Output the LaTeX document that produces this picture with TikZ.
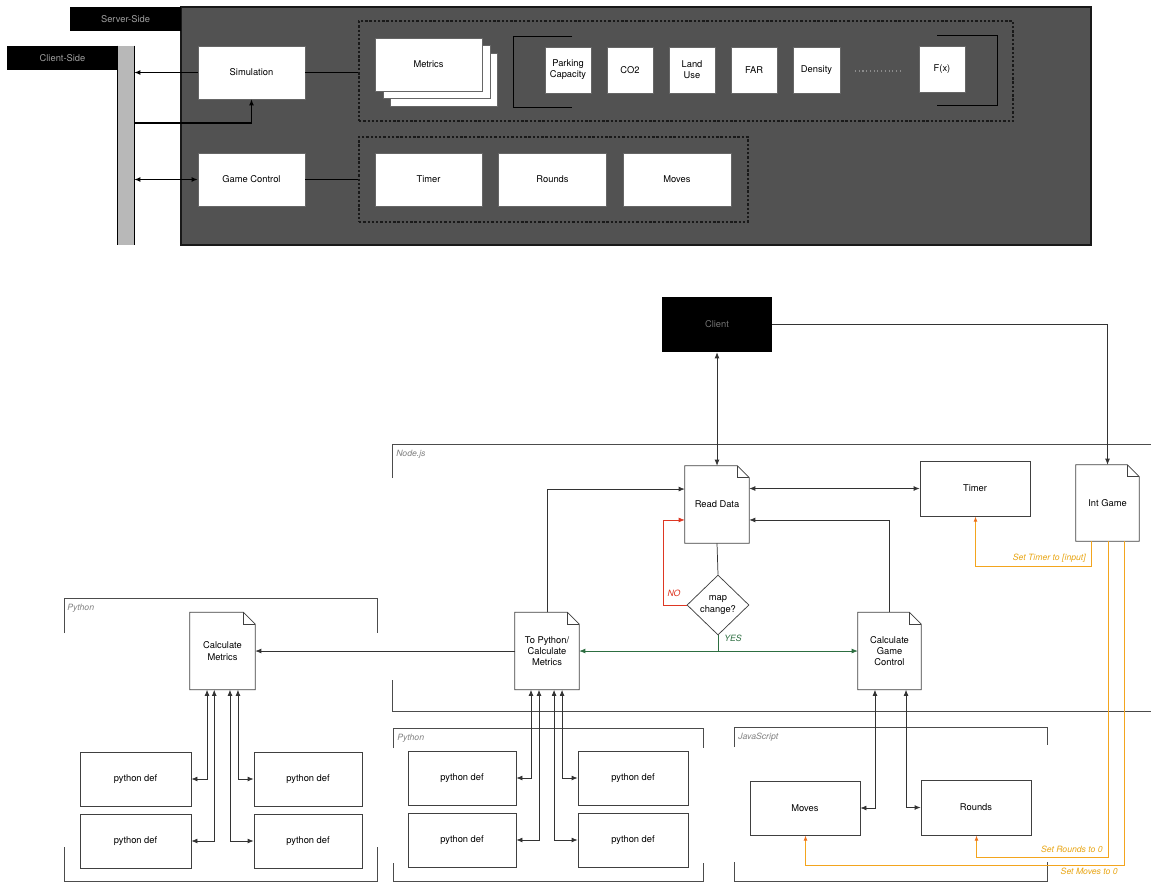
\documentclass[tikz,border=0pt]{standalone}
\usepackage{fontspec}
\setmainfont{TeX Gyre Heros}
\usetikzlibrary{arrows.meta,shapes.geometric}
\definecolor{panel}{RGB}{82,82,82}
\definecolor{orln}{RGB}{243,165,30}
\definecolor{orhd}{RGB}{235,110,25}
\definecolor{ortx}{RGB}{232,165,20}
\definecolor{nored}{RGB}{222,55,35}
\definecolor{yesgr}{RGB}{45,110,65}
\newcommand{\docout}[1]{%
  \draw[docl] (#1.north west) -- ([xshift=-9pt]#1.north east) -- ([yshift=-9pt]#1.north east) -- (#1.south east) -- (#1.south west) -- cycle;
  \draw[docl] ([xshift=-9pt]#1.north east) |- ([yshift=-9pt]#1.north east);}
\begin{document}
\begin{tikzpicture}[x=0.75pt,y=-0.75pt,
  font=\fontsize{7}{8.4}\selectfont,
  sz/.style 2 args={minimum width=#1*0.75pt, minimum height=#2*0.75pt, inner sep=0pt},
  tbox/.style={fill=white, draw=black!60, line width=0.4pt, align=center},
  wbox/.style={fill=white, draw=black!75, line width=0.55pt, align=center},
  docbox/.style={fill=white, draw=none, align=center},
  docl/.style={draw=black!75, line width=0.55pt},
  dbox/.style={draw=black!90, dash pattern=on 1.8pt off 1.4pt, line width=0.8pt},
  blk/.style={fill=black, text=black!38, inner sep=0pt},
  arr/.style={-{Latex[length=4.5pt,width=3.6pt]}},
  darr/.style={{Latex[length=4.5pt,width=3.6pt]}-{Latex[length=4.5pt,width=3.6pt]}},
  ln/.style={draw=black!80, line width=0.55pt},
  cont/.style={draw=black!70, line width=0.6pt},
  clab/.style={font=\fontsize{6.5}{7}\selectfont\itshape, text=black!50, anchor=west, inner sep=0pt},
  org/.style={draw=orln, line width=0.95pt, -{Latex[length=4pt,width=3pt,color=orhd]}},
  otx/.style={font=\fontsize{6.5}{7}\selectfont\itshape, text=ortx, anchor=east, inner sep=0pt}
]
\useasboundingbox (0,0) rectangle (1151,883);
% ================= TOP =================
\node[fill=panel, draw=black!90, line width=0.9pt, sz={910}{238}] (panel) at (636,126) {};
\node[blk, sz={111}{24}] (stab) at (125.5,19) {Server-Side};
\node[blk, sz={111}{24}] (ctab) at (62.5,58) {Client-Side};
\node[fill=black!28, sz={16}{199}] (bar) at (126,145.5) {};
\draw[line width=0.9pt] (bar.north west) -- (bar.south west);
\draw[line width=0.9pt] (bar.north east) -- (bar.south east);

\node[dbox, sz={654}{100}] (dm) at (686,71) {};
\node[dbox, sz={389}{85}] (dg) at (553.5,179.5) {};

\node[tbox, sz={107}{53}] (sim) at (251.5,72.5) {Simulation};
\node[tbox, sz={107}{53}] (gc) at (251.5,179.5) {Game Control};

\node[tbox, sz={107}{53}] (m3) at (443.5,79.5) {};
\node[tbox, sz={107}{53}] (m2) at (436.5,71.5) {};
\node[tbox, sz={107}{53}] (met) at (428.5,64.5) {Metrics};

\node[tbox, sz={46}{46}] (pc) at (568,70) {Parking\\Capacity};
\node[tbox, sz={46}{46}] (co) at (630,70) {CO2};
\node[tbox, sz={46}{46}] (lu) at (692,70) {Land\\Use};
\node[tbox, sz={46}{46}] (far) at (754,70) {FAR};
\node[tbox, sz={47}{46}] (den) at (816.5,70) {Density};
\node[tbox, sz={46}{46}] (fx) at (942,69) {F(x)};

\draw[line width=0.7pt] (572,36) -| (513,107) -- (572,107);
\draw[line width=0.7pt] (937,35) -| (997,105) -- (937,105);
\draw[dotted, black!45, line width=0.8pt] (855,71) -- (900,71);

\node[tbox, sz={107}{53}] (ttop) at (428.5,179.5) {Timer};
\node[tbox, sz={108}{53}] (rtop) at (552.5,179.5) {Rounds};
\node[tbox, sz={108}{53}] (mtop) at (677,179.5) {Moves};

\draw[line width=0.7pt] (sim.east) -- (sim.east -| dm.west);
\draw[line width=0.7pt] (gc.east) -- (gc.east -| dg.west);
\draw[line width=0.8pt, arr] (sim.west) -- (sim.west -| bar.east);
\coordinate (barin) at (134,123);
\draw[line width=0.8pt, arr] (barin) -| (sim.south);
\draw[line width=0.8pt, darr] (gc.west) -- (gc.west -| bar.east);

% ================= BOTTOM =================
% containers
\draw[cont] (392,478) -- (392,444) -- (1151,444);
\draw[cont] (392,680) -- (392,711) -- (1151,711);
\node[clab] (lnode) at (396,454) {Node.js};
\draw[cont] (64,633) -- (64,598) -- (377,598) -- (377,633);
\draw[cont] (64,847) -- (64,881) -- (377,881) -- (377,847);
\node[clab] (lpy1) at (67,608) {Python};
\draw[cont] (393,748) -- (393,728) -- (703,728) -- (703,748);
\draw[cont] (393,863) -- (393,881) -- (703,881) -- (703,863);
\node[clab] (lpy2) at (397,738) {Python};
\draw[cont] (734,747) -- (734,727) -- (1047,727) -- (1047,745);
\draw[cont] (734,862) -- (734,881) -- (1047,881) -- (1047,862);
\node[clab] (ljs) at (738,737) {JavaScript};

% nodes
\node[blk, text=black!55, sz={110}{55}] (client) at (717,324.5) {Client};
\node[docbox, sz={64}{77}] (rd) at (717,504.5) {Read Data};
\docout{rd}
\node[wbox, sz={110}{55}] (timer) at (975,488.5) {Timer};
\node[docbox, sz={63}{76}] (ig) at (1107.5,503) {Int Game};
\docout{ig}
\node[diamond, draw=black!75, line width=0.55pt, fill=white, align=center, sz={62}{60}] (dia) at (718,605) {map\\change?};
\node[docbox, sz={64}{77}] (tp) at (547,651) {To Python/\\Calculate\\Metrics};
\docout{tp}
\node[docbox, sz={63}{77}] (cgc) at (889.5,651) {Calculate\\Game\\Control};
\docout{cgc}
\node[docbox, sz={65}{77}] (cm) at (222.5,651) {Calculate\\Metrics};
\docout{cm}

\node[wbox, sz={111}{54}] (a1) at (135.5,779) {python def};
\node[wbox, sz={111}{54}] (a2) at (135.5,841) {python def};
\node[wbox, sz={108}{54}] (a3) at (308,779) {python def};
\node[wbox, sz={108}{54}] (a4) at (308,841) {python def};
\node[wbox, sz={108}{54}] (b1) at (462,778) {python def};
\node[wbox, sz={108}{54}] (b2) at (462,840) {python def};
\node[wbox, sz={110}{54}] (b3) at (633,778) {python def};
\node[wbox, sz={110}{54}] (b4) at (633,840) {python def};
\node[wbox, sz={110}{54}] (mv) at (805,808) {Moves};
\node[wbox, sz={110}{55}] (rn) at (976,807.5) {Rounds};

% connectors
\draw[ln, darr] (client.south) -- (rd.north);
\draw[ln, arr] (client.east) -| (ig.north);
\draw[ln, darr] (timer.west -| rd.east) -- (timer.west);
\draw[ln, arr] (cgc.north) |- ([yshift=-11.6pt]rd.east);
\draw[ln, arr] (tp.north) |- ([yshift=11.6pt]rd.west);
\draw[ln] (rd.south) -- (dia.north);
\coordinate (nox) at (663,605);
\draw[draw=nored, line width=0.55pt, arr] (dia.west) -- (nox) |- ([yshift=-11.6pt]rd.west);
\node[font=\fontsize{6.5}{7}\selectfont\itshape, text=nored, inner sep=0pt] (nol) at (674,593) {NO};
\draw[draw=yesgr, line width=0.55pt] (dia.south) -- (dia.south |- tp.east);
\draw[draw=yesgr, line width=0.55pt, darr] (tp.east) -- (cgc.west);
\node[font=\fontsize{6.5}{7}\selectfont\itshape, text=yesgr, inner sep=0pt] (yesl) at (733,638) {YES};
\draw[ln, arr] (tp.west) -- (cm.east);

\draw[ln, darr] (a1.east) -| ([xshift=-11.6pt]cm.south);
\draw[ln, darr] (a2.east) -| ([xshift=-6.2pt]cm.south);
\draw[ln, darr] (a4.west) -| ([xshift=5.6pt]cm.south);
\draw[ln, darr] (a3.west) -| ([xshift=11.6pt]cm.south);

\draw[ln, darr] (b1.east) -| ([xshift=-12pt]tp.south);
\draw[ln, darr] (b2.east) -| ([xshift=-6pt]tp.south);
\draw[ln, darr] (b4.west) -| ([xshift=5.3pt]tp.south);
\draw[ln, darr] (b3.west) -| ([xshift=11.3pt]tp.south);

\draw[ln, darr] (mv.east) -| ([xshift=-10.9pt]cgc.south);
\draw[ln, darr] (rn.west) -| ([xshift=12.4pt]cgc.south);

\coordinate (o1) at (975.5,566.5);
\coordinate (o2) at (976.5,857.5);
\coordinate (o3) at (805.5,865.5);
\draw[org] ([xshift=-12pt]ig.south) |- (o1) -- (o1 |- timer.south);
\draw[org] ([xshift=0.75pt]ig.south) |- (o2) -- (o2 |- rn.south);
\draw[org] ([xshift=12.75pt]ig.south) |- (o3) -- (o3 |- mv.south);
\node[otx] (t1) at (1086,558) {Set Timer to [input]};
\node[otx] (t2) at (1103,849) {Set Rounds to 0};
\node[otx] (t3) at (1118,871) {Set Moves to 0};
\end{tikzpicture}
\end{document}
